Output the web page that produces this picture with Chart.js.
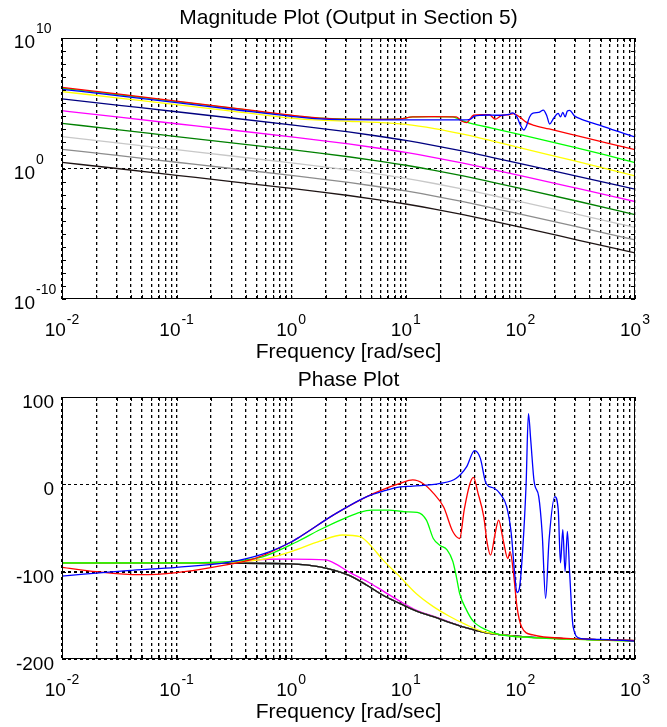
<!DOCTYPE html>
<html><head><meta charset="utf-8">
<script src="https://cdn.jsdelivr.net/npm/chart.js@4/dist/chart.umd.min.js"></script>
<style>
html,body{margin:0;padding:0;background:#fff;}
#wrap{position:relative;width:667px;height:727px;overflow:hidden;background:#fff;}
#c1{position:absolute;left:0;top:0;}
#c2{position:absolute;left:0;top:355px;}
</style></head><body>
<div id="wrap"><canvas id="c1" width="667" height="366"></canvas><canvas id="c2" width="667" height="372"></canvas></div>
<script>
// ---------- axis ticks / labels ----------
const freqGridValues = [0.01,0.02,0.03,0.04,0.05,0.06,0.07,0.08,0.09,
  0.1,0.2,0.3,0.4,0.5,0.6,0.7,0.8,0.9,
  1,2,3,4,5,6,7,8,9,
  10,20,30,40,50,60,70,80,90,
  100,200,300,400,500,600,700,800,900,1000];
const freqMajorTicks = [0.01, 0.1, 1, 10, 100, 1000];
const freqTickExponents = ['-2', '-1', '0', '1', '2', '3'];
const magDecadeTicks = [1e-10,1e-9,1e-8,1e-7,1e-6,1e-5,1e-4,1e-3,1e-2,1e-1,1,1e1,1e2,1e3,1e4,1e5,1e6,1e7,1e8,1e9,1e10];
const magMajorTicks = [1e-10, 1, 1e10];
const magTickExponents = ['-10', '0', '10'];
const phaseTicks = [-200, -100, 0, 100];
const phaseTickLabels = ['-200', '-100', '0', '100'];

// ---------- magnitude data: log10(frequency rad/s) and log10(|G|) ----------
const magLowLogW   = [-2, -1.5, -1, -0.5, 0, 0.25, 0.5, 0.75, 1, 1.25, 1.5, 1.75, 2, 2.5, 3];
const magNavy      = [5.33, 4.84, 4.35, 3.85, 3.34, 3.08, 2.80, 2.49, 2.15, 1.76, 1.33, 0.86, 0.38, -0.61, -1.58];
const magMagenta   = [4.43, 3.93, 3.43, 2.93, 2.42, 2.16, 1.88, 1.57, 1.23, 0.84, 0.41, -0.06, -0.54, -1.53, -2.53];
const magDarkGreen = [3.46, 2.96, 2.45, 1.95, 1.44, 1.18, 0.90, 0.59, 0.25, -0.14, -0.57, -1.04, -1.52, -2.51, -3.53];
const magLightGray = [2.44, 1.94, 1.44, 0.94, 0.43, 0.17, -0.11, -0.42, -0.76, -1.15, -1.58, -2.05, -2.53, -3.52, -4.52];
const magGray      = [1.47, 0.98, 0.48, -0.02, -0.53, -0.79, -1.07, -1.38, -1.72, -2.11, -2.54, -3.01, -3.49, -4.48, -5.47];
const magBlack     = [0.47, -0.02, -0.52, -1.02, -1.53, -1.79, -2.07, -2.38, -2.72, -3.11, -3.54, -4.01, -4.49, -5.48, -6.47];
const magYellow    = [5.89, 5.40, 4.90, 4.38, 3.86, 3.70, 3.62, 3.54, 3.38, 3.06, 2.63, 2.12, 1.58, 0.52, -0.57];

const magGreenLogW = [-2, -1.5, -1, -0.5, 0, 0.25, 0.5, 0.75, 0.95, 1.06, 1.2, 1.41, 1.47, 1.53, 1.62, 1.75, 2, 2.25, 2.5, 2.75, 3];
const magGreen     = [6.15, 5.65, 5.13, 4.60, 4.06, 3.85, 3.78, 3.77, 3.80, 3.95, 3.97, 3.96, 3.75, 3.55, 3.35, 3.10, 2.60, 2.08, 1.56, 1.02, 0.45];

const magRedLogW = [-2, -1.5, -1, -0.5, 0, 0.25, 0.5, 0.75, 0.95, 1.06, 1.25, 1.44, 1.49, 1.53, 1.59, 1.66, 1.73, 1.78, 1.84, 1.9, 1.94, 2.0, 2.05, 2.11, 2.25, 2.5, 2.75, 3];
const magRed     = [6.22, 5.70, 5.17, 4.63, 4.08, 3.86, 3.78, 3.77, 3.80, 3.96, 3.98, 3.96, 3.62, 3.52, 4.08, 4.13, 4.12, 3.78, 4.08, 4.12, 4.20, 3.90, 3.55, 3.33, 3.03, 2.50, 1.97, 1.44];

const magBlueLogW = [-2, -1.5, -1, -0.5, 0, 0.25, 0.5, 0.75, 1, 1.25, 1.5, 1.56, 1.6, 1.66, 1.73, 1.78, 1.84, 1.9, 1.93, 1.97, 2.0, 2.03, 2.05, 2.08, 2.11, 2.16, 2.2, 2.23, 2.255, 2.29, 2.33, 2.35, 2.37, 2.39, 2.41, 2.43, 2.47, 2.54, 2.69, 2.83, 3];
const magBlue     = [6.07, 5.57, 5.05, 4.52, 4.00, 3.80, 3.74, 3.72, 3.72, 3.72, 3.72, 3.76, 4.02, 4.08, 4.10, 4.08, 4.08, 4.14, 4.26, 3.95, 3.33, 2.95, 3.20, 3.95, 4.25, 4.30, 4.48, 4.05, 3.41, 3.85, 4.22, 3.95, 4.30, 3.95, 4.40, 4.45, 4.05, 3.75, 3.33, 2.90, 2.42];

// ---------- phase data (degrees) ----------
const phaseLowerLogW = [-2, -1, -0.5, 0, 0.25, 0.5, 0.66, 0.8, 0.95, 1.1, 1.24, 1.4, 1.53, 1.7, 1.82, 2.1, 2.4, 3];
const phaseLower     = [-90, -90, -90.3, -91, -94.5, -104, -115.5, -127, -136.5, -145.5, -151.5, -159, -164.5, -170, -172, -175.2, -176.8, -179];

const phaseMagentaLogW = [-2, -1, -0.6, -0.4, -0.2, 0, 0.3, 0.4, 0.51, 0.66, 0.8, 0.95, 1.1, 1.24, 1.4, 1.53, 1.7, 1.82, 2.1, 2.4, 3];
const phaseMagenta     = [-90, -90, -89.5, -88, -85.8, -85.7, -86.5, -92, -100.8, -111, -122, -134, -144.5, -151, -158.5, -164.5, -170, -172, -175.2, -176.8, -179];

const phaseYellowLogW = [-2, -1, -0.5, -0.25, 0, 0.25, 0.45, 0.6, 0.7, 0.79, 0.95, 1.09, 1.24, 1.38, 1.53, 1.67, 1.82, 2.1, 2.5, 3];
const phaseYellow     = [-90, -90, -89, -86, -77, -65, -58, -60, -71, -85, -106, -125, -140, -151, -161, -168.5, -172, -175.5, -177.5, -179.5];

const phaseGreenLogW = [-2, -1, -0.5, -0.25, 0, 0.077, 0.25, 0.5, 0.6, 0.7, 0.85, 1.0, 1.1, 1.18, 1.24, 1.3, 1.36, 1.41, 1.44, 1.47, 1.53, 1.59, 1.7, 1.82, 2.1, 2.5, 3];
const phaseGreen     = [-90, -90, -88, -83, -69, -64, -52, -37, -32, -29.5, -29.5, -31.5, -32, -41, -62, -70, -75, -88, -105, -125, -144, -157, -166.5, -172, -175.5, -177.5, -179.5];

const phaseRedLogW = [-2, -1.7, -1.32, -1, -0.69, -0.32, 0, 0.077, 0.37, 0.66, 0.8, 0.95, 1.06, 1.15, 1.24, 1.33, 1.41, 1.47, 1.51, 1.56, 1.59, 1.63, 1.68, 1.71, 1.74, 1.78, 1.81, 1.85, 1.89, 1.91, 1.94, 1.97, 2.01, 2.11, 2.4, 3];
const phaseRed     = [-95, -100, -103.5, -101, -95, -85, -66, -60, -35, -14, -6, 1, 5, 1, -10, -26, -54, -62, -29, 1, 8, -10, -37, -67, -81, -56, -41, -64, -85, -77, -102, -140, -163, -172.5, -176.3, -179];

const phaseBlueLogW = [-2, -1.43, -1, -0.54, -0.25, 0, 0.077, 0.37, 0.66, 0.8, 0.95, 1.06, 1.3, 1.44, 1.53, 1.6, 1.65, 1.7, 1.77, 1.82, 1.88, 1.92, 1.95, 1.97, 1.99, 2.02, 2.05, 2.07, 2.09, 2.12, 2.16, 2.19, 2.22, 2.25, 2.3, 2.33, 2.35, 2.37, 2.39, 2.41, 2.43, 2.46, 2.52, 2.69, 3];
const phaseBlue     = [-105, -98.7, -95, -89, -80, -66, -60, -35, -14, -8, -3, -2, 1, 7, 20, 38.5, 30, 1, -4.5, -10.3, -25.6, -56, -102, -124, -120, -75, 1, 81, 51, 3, -14, -56, -130.5, -64, -14, -29, -90, -52, -100, -54, -102, -163, -176.3, -177.5, -179.5];

// ---------- helpers ----------
const FONT = "'Liberation Sans', Arial, Helvetica, sans-serif";
const COLORS = {blue:'#0000ff', red:'#ff0000', green:'#00ff00', yellow:'#ffff00', navy:'#000080',
  magenta:'#ff00ff', darkGreen:'#008000', lightGray:'#c8c8c8', gray:'#8c8c8c', black:'#1e1414'};

function logPts(logW, logVals) { return logW.map((w, i) => ({x: Math.pow(10, w), y: Math.pow(10, logVals[i])})); }
function linPts(logW, vals) { return logW.map((w, i) => ({x: Math.pow(10, w), y: vals[i]})); }
function ds(data, color) {
  return {data, borderColor: color, backgroundColor: color, borderWidth: 1.3, pointRadius: 0,
    fill: false, cubicInterpolationMode: 'monotone', tension: 0.4};
}

function drawPow(ctx, exp, x, baseY, mode, raise) {
  ctx.font = '19px ' + FONT;
  const w1 = ctx.measureText('10').width;
  ctx.font = '14px ' + FONT;
  const w2 = ctx.measureText(exp).width;
  const gap = 1;
  let x0 = mode === 'center' ? x - (w1 + gap + w2) / 2 : x - w1;
  ctx.textAlign = 'left';
  ctx.textBaseline = 'alphabetic';
  ctx.font = '19px ' + FONT;
  ctx.fillText('10', x0, baseY);
  ctx.font = '14px ' + FONT;
  ctx.fillText(exp, x0 + w1 + gap, baseY - raise);
}

const axesPlugin = {
  id: 'matlabAxes',
  afterDraw(chart, args, o) {
    const {ctx, chartArea: a} = chart;
    const xs = chart.scales.x, ys = chart.scales.y;
    ctx.save();
    ctx.setLineDash([]);
    ctx.strokeStyle = '#000';
    ctx.lineWidth = 1;
    ctx.beginPath();
    o.xMarks.forEach(v => {
      const px = Math.round(xs.getPixelForValue(v)) + 0.5;
      ctx.moveTo(px, a.top); ctx.lineTo(px, a.top + 4);
      ctx.moveTo(px, a.bottom); ctx.lineTo(px, a.bottom - 4);
    });
    o.yMarks.forEach(v => {
      const py = Math.round(ys.getPixelForValue(v)) + 0.5;
      ctx.moveTo(a.left, py); ctx.lineTo(a.left + 4, py);
      ctx.moveTo(a.right, py); ctx.lineTo(a.right - 4, py);
    });
    ctx.stroke();
    ctx.strokeRect(Math.round(a.left) + 0.5, Math.round(a.top) + 0.5,
      Math.round(a.right - a.left) - 1, Math.round(a.bottom - a.top) - 1);
    ctx.fillStyle = '#000';
    o.xLabelValues.forEach((v, i) => {
      drawPow(ctx, o.xLabelExps[i], xs.getPixelForValue(v), a.bottom + 36.5, 'center', 12);
    });
    if (o.yPow) {
      o.yLabelValues.forEach((v, i) => {
        drawPow(ctx, o.yLabels[i], a.left - 27, ys.getPixelForValue(v) + 10, 'baseRight', 15);
      });
    } else {
      ctx.font = '19px ' + FONT;
      ctx.textAlign = 'right';
      ctx.textBaseline = 'alphabetic';
      o.yLabelValues.forEach((v, i) => {
        ctx.fillText(o.yLabels[i], a.left - 8, ys.getPixelForValue(v) + 11);
      });
    }
    ctx.restore();
  }
};

function xScale(titlePadTop, titlePadBottom) {
  return {
    type: 'logarithmic', position: 'bottom', min: 0.01, max: 1000,
    afterBuildTicks: s => { s.ticks = freqGridValues.map(v => ({value: v})); },
    ticks: {display: false},
    grid: {display: true, drawTicks: false, tickLength: 0, color: '#000', lineWidth: 1.3, borderDash: [3, 3]},
    border: {display: false, dash: [3, 3]},
    title: {display: true, text: 'Frequency [rad/sec]', color: '#000',
      font: {family: FONT, size: 21, weight: 'normal'}, padding: {top: titlePadTop, bottom: titlePadBottom}}
  };
}

Chart.defaults.font.family = FONT;
Chart.defaults.color = '#000';

// ---------- magnitude chart ----------
new Chart(document.getElementById('c1'), {
  type: 'line',
  data: {datasets: [
    ds(logPts(magBlueLogW, magBlue), COLORS.blue),
    ds(logPts(magRedLogW, magRed), COLORS.red),
    ds(logPts(magGreenLogW, magGreen), COLORS.green),
    ds(logPts(magLowLogW, magYellow), COLORS.yellow),
    ds(logPts(magLowLogW, magBlack), COLORS.black),
    ds(logPts(magLowLogW, magGray), COLORS.gray),
    ds(logPts(magLowLogW, magLightGray), COLORS.lightGray),
    ds(logPts(magLowLogW, magDarkGreen), COLORS.darkGreen),
    ds(logPts(magLowLogW, magMagenta), COLORS.magenta),
    ds(logPts(magLowLogW, magNavy), COLORS.navy)
  ]},
  options: {
    responsive: false, animation: false, events: [],
    layout: {padding: {left: 62, right: 32, top: 0, bottom: 0}},
    scales: {
      x: xScale(40.4, 1.4),
      y: {
        type: 'logarithmic', min: 1e-10, max: 1e10,
        afterBuildTicks: s => { s.ticks = magDecadeTicks.map(v => ({value: v})); },
        ticks: {display: false},
        grid: {display: true, drawTicks: false, tickLength: 0, borderDash: [3, 3],
          color: c => (c.tick && c.tick.value === 1) ? '#000' : 'rgba(0,0,0,0)', lineWidth: 1},
        border: {display: false, dash: [3, 3]}
      }
    },
    plugins: {
      legend: {display: false}, tooltip: {enabled: false},
      title: {display: true, text: 'Magnitude Plot (Output in Section 5)', color: '#000',
        font: {family: FONT, size: 21, weight: 'normal'}, padding: {top: 5.4, bottom: 7.4}},
      matlabAxes: {xMarks: freqGridValues, yMarks: magDecadeTicks,
        xLabelValues: freqMajorTicks, xLabelExps: freqTickExponents,
        yPow: true, yLabelValues: magMajorTicks, yLabels: magTickExponents}
    }
  },
  plugins: [axesPlugin]
});

// ---------- phase chart ----------
new Chart(document.getElementById('c2'), {
  type: 'line',
  data: {datasets: [
    ds(linPts(phaseBlueLogW, phaseBlue), COLORS.blue),
    ds(linPts(phaseRedLogW, phaseRed), COLORS.red),
    ds(linPts(phaseGreenLogW, phaseGreen), COLORS.green),
    ds(linPts(phaseYellowLogW, phaseYellow), COLORS.yellow),
    ds(linPts(phaseLowerLogW, phaseLower), COLORS.black),
    ds(linPts(phaseLowerLogW, phaseLower), COLORS.gray),
    ds(linPts(phaseLowerLogW, phaseLower), COLORS.lightGray),
    ds(linPts(phaseLowerLogW, phaseLower), COLORS.darkGreen),
    ds(linPts(phaseMagentaLogW, phaseMagenta), COLORS.magenta),
    ds(linPts(phaseLowerLogW, phaseLower), COLORS.navy)
  ]},
  options: {
    responsive: false, animation: false, events: [],
    layout: {padding: {left: 62, right: 32, top: 0, bottom: 0}},
    scales: {
      x: xScale(40.4, 2.4),
      y: {
        type: 'linear', min: -200, max: 100,
        afterBuildTicks: s => { s.ticks = phaseTicks.map(v => ({value: v})); },
        ticks: {display: false},
        grid: {display: true, drawTicks: false, tickLength: 0, borderDash: [3, 3], color: '#000',
          lineWidth: c => (c.tick && c.tick.value === -100) ? 2 : 1},
        border: {display: false, dash: [3, 3]}
      }
    },
    plugins: {
      legend: {display: false}, tooltip: {enabled: false},
      title: {display: true, text: 'Phase Plot', color: '#000',
        font: {family: FONT, size: 21, weight: 'normal'}, padding: {top: 12.4, bottom: 4.4}},
      matlabAxes: {xMarks: freqGridValues, yMarks: phaseTicks,
        xLabelValues: freqMajorTicks, xLabelExps: freqTickExponents,
        yPow: false, yLabelValues: phaseTicks, yLabels: phaseTickLabels}
    }
  },
  plugins: [axesPlugin]
});
</script></body></html>
